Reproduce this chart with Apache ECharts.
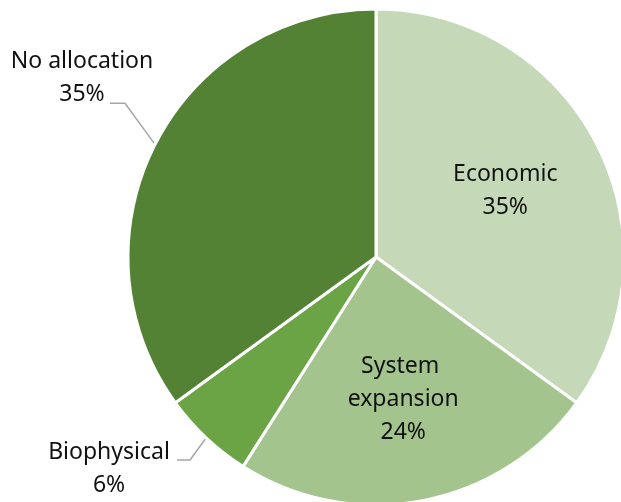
<!DOCTYPE html>
<html><head><meta charset="utf-8">
<script src="https://cdn.jsdelivr.net/npm/echarts@6/dist/echarts.min.js"></script>
<style>html,body{margin:0;padding:0;background:#fff}#c{width:621px;height:502px}</style>
</head><body><div id="c"></div>
<script>
// ---- data ----
const categories = ['Economic', 'System expansion', 'Biophysical', 'No allocation'];
const values = [35, 24, 6, 35];

// ---- style / layout ----
const colors = ['#c5d9b9', '#a4c48e', '#6aa444', '#548235'];
const CX = 376, CY = 257, R = 248;
// per-slice label placement (style, not data)
const labelPlace = [
  { inside: true, rf: 0.585 },
  { inside: true, rf: 0.585, width: 130 },
  { inside: false, elbowRf: 1.11, elbowDA: 0.7, seg: 13, dx: -68, dy: 9 },
  { inside: false, elbowRf: 1.187, elbowDA: -4.5, seg: 15, dx: -28, dy: -25 }
];

const total = values.reduce((a, b) => a + b, 0);
function midAngleDeg(i) {
  let s = 0;
  for (let k = 0; k < i; k++) s += values[k];
  return 90 - (s + values[i] / 2) / total * 360;
}
function polar(deg, r) {
  const a = deg * Math.PI / 180;
  return [CX + r * Math.cos(a), CY - r * Math.sin(a)];
}

const chart = echarts.init(document.getElementById('c'), null, { renderer: 'canvas' });
chart.setOption({
  backgroundColor: '#ffffff',
  animation: false,
  series: [{
    type: 'pie',
    center: [CX, CY],
    radius: R,
    startAngle: 90,
    clockwise: true,
    avoidLabelOverlap: false,
    itemStyle: { borderColor: '#ffffff', borderWidth: 3 },
    label: {
      fontFamily: 'Noto Sans',
      fontSize: 23,
      lineHeight: 33,
      color: '#111111',
      align: 'center',
      formatter: p => p.name + '\n' + p.value + '%'
    },
    labelLine: { lineStyle: { color: '#a6a6a6', width: 1.5 } },
    emphasis: { disabled: true },
    data: categories.map((name, i) => {
      const lp = labelPlace[i];
      const item = {
        name: name,
        value: values[i],
        itemStyle: { color: colors[i] },
        label: { position: lp.inside ? 'inside' : 'outside' },
        labelLine: { show: !lp.inside }
      };
      if (lp.width) { item.label.width = lp.width; item.label.overflow = 'break'; }
      return item;
    }),
    labelLayout: function (params) {
      const i = params.dataIndex;
      const lp = labelPlace[i];
      const mid = midAngleDeg(i);
      if (lp.inside) {
        const p = polar(mid, R * lp.rf);
        return { x: p[0], y: p[1], align: 'center', verticalAlign: 'middle' };
      }
      const p0 = polar(mid, R);
      const p1 = polar(mid + lp.elbowDA, R * lp.elbowRf);
      const p2 = [p1[0] - lp.seg, p1[1]];
      return {
        x: p2[0] + lp.dx, y: p2[1] + lp.dy,
        align: 'center', verticalAlign: 'middle',
        labelLinePoints: [p0, p1, p2]
      };
    }
  }]
});
</script>
</body></html>
